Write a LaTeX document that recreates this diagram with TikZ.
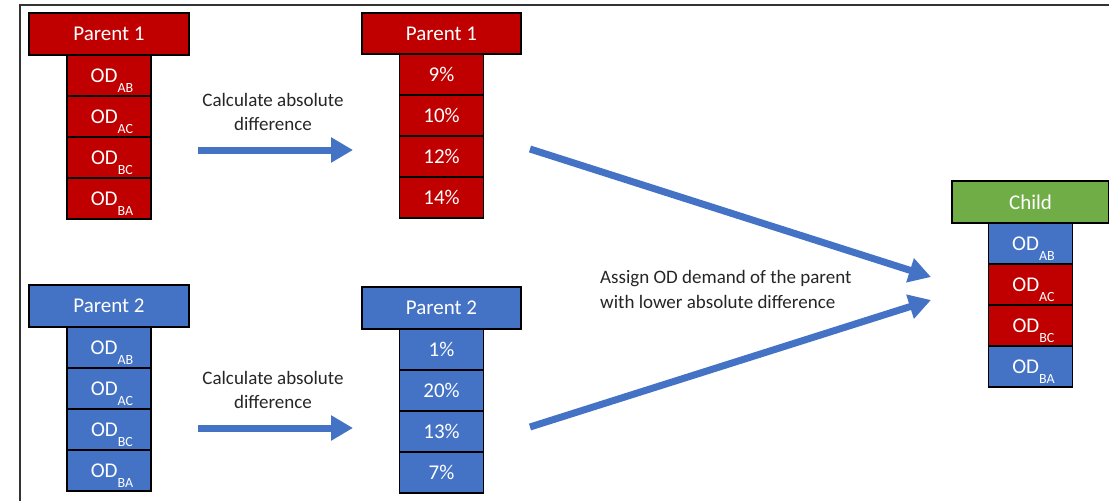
\documentclass[tikz,border=0pt]{standalone}
\usepackage{fontspec}
\setmainfont{Carlito}
\usetikzlibrary{arrows.meta,positioning}
\definecolor{pred}{HTML}{C00000}
\definecolor{pblue}{HTML}{4472C4}
\definecolor{pgreen}{HTML}{70AD47}
\definecolor{lblc}{HTML}{262626}
\newcommand{\odsub}[1]{\hspace*{6pt}OD\smash{\raisebox{-10pt}{\fontsize{14}{14}\selectfont #1}}}
\begin{document}
\begin{tikzpicture}[x=1pt,y=-1pt,
  hdr/.style={draw=black, line width=1.2pt, text=white, minimum width=160pt, minimum height=42pt, inner sep=0pt, outer sep=0pt, font=\fontsize{21}{25}\selectfont},
  cell/.style={draw=black, line width=1.2pt, text=white, minimum width=84pt, minimum height=41pt, inner sep=0pt, outer sep=0pt, font=\fontsize{21}{25}\selectfont},
  fat/.style={draw=pblue, line width=7pt, -{Triangle[length=22pt,width=24pt]}},
  lbl/.style={text=lblc, font=\fontsize{19}{24.5}\selectfont, inner sep=0pt}]
\useasboundingbox (0,0) rectangle (1109,501);
\fill[white] (0,0) rectangle (1109,501);
% frame
\draw[line width=2.2pt, black!80] (20,501) -- (20,5) -- (1109,5);

% Left Parent 1
\node[hdr, fill=pred] (p1h) at (109,34) {Parent 1};
\node[cell, fill=pred, below=0pt of p1h] (p1a) {\odsub{AB}};
\node[cell, fill=pred, below=0pt of p1a] (p1b) {\odsub{AC}};
\node[cell, fill=pred, below=0pt of p1b] (p1c) {\odsub{BC}};
\node[cell, fill=pred, below=0pt of p1c] (p1d) {\odsub{BA}};

% Middle Parent 1
\node[hdr, fill=pred, minimum width=159pt, minimum height=41pt] (q1h) at (441.5,33.5) {Parent 1};
\node[cell, fill=pred, below=0pt of q1h] (q1a) {9\%};
\node[cell, fill=pred, below=0pt of q1a] (q1b) {10\%};
\node[cell, fill=pred, below=0pt of q1b] (q1c) {12\%};
\node[cell, fill=pred, below=0pt of q1c] (q1d) {14\%};

% Left Parent 2
\node[hdr, fill=pblue] (p2h) at (109,306) {Parent 2};
\node[cell, fill=pblue, below=0pt of p2h] (p2a) {\odsub{AB}};
\node[cell, fill=pblue, below=0pt of p2a] (p2b) {\odsub{AC}};
\node[cell, fill=pblue, below=0pt of p2b] (p2c) {\odsub{BC}};
\node[cell, fill=pblue, below=0pt of p2c] (p2d) {\odsub{BA}};

% Middle Parent 2
\node[hdr, fill=pblue, minimum width=159pt] (q2h) at (441.5,308) {Parent 2};
\node[cell, fill=pblue, below=0pt of q2h] (q2a) {1\%};
\node[cell, fill=pblue, below=0pt of q2a] (q2b) {20\%};
\node[cell, fill=pblue, below=0pt of q2b] (q2c) {13\%};
\node[cell, fill=pblue, below=0pt of q2c] (q2d) {7\%};

% Child
\node[hdr, fill=pgreen, minimum width=157pt] (ch) at (1030.5,202) {Child};
\node[cell, fill=pblue, below=0pt of ch] (ca) {\odsub{AB}};
\node[cell, fill=pred, below=0pt of ca] (cb) {\odsub{AC}};
\node[cell, fill=pred, below=0pt of cb] (cc) {\odsub{BC}};
\node[cell, fill=pblue, below=0pt of cc] (cd) {\odsub{BA}};

% labels
\node[lbl, align=center] (l1) at (273,112) {Calculate absolute\\difference};
\node[lbl, align=center] (l2) at (273,390) {Calculate absolute\\difference};
\node[lbl, align=left, anchor=west] (l3) at (600,289.5) {Assign OD demand of the parent\\with lower absolute difference};

% arrow end points
\coordinate (a1s) at (198,150);
\coordinate (a1e) at (353,150);
\coordinate (a2s) at (198,428);
\coordinate (a2e) at (353,428);
\coordinate (b1s) at (530,149);
\coordinate (b2s) at (530,427);
\coordinate (b1e) at (931,277);
\coordinate (b2e) at (931,300);

\draw[fat] (a1s) -- (a1e);
\draw[fat] (a2s) -- (a2e);
\draw[fat] (b1s) -- (b1e);
\draw[fat] (b2s) -- (b2e);
\end{tikzpicture}
\end{document}
